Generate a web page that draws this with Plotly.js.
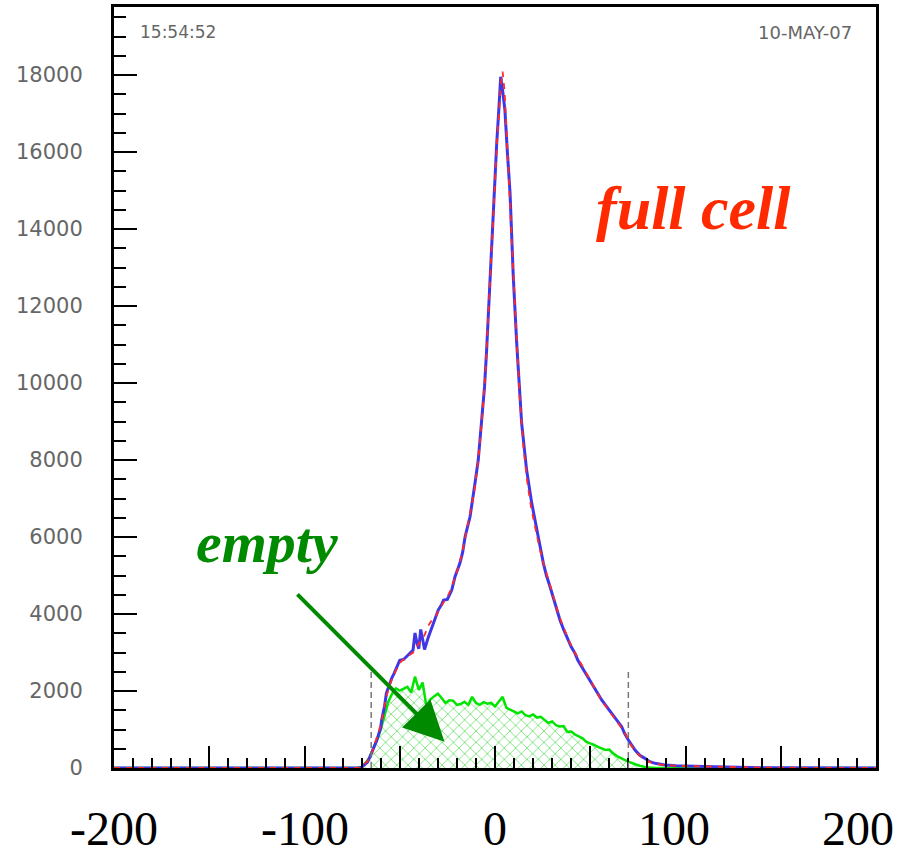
<!DOCTYPE html>
<html>
<head>
<meta charset="utf-8">
<script src="https://cdn.plot.ly/plotly-3.0.1.min.js"></script>
<style>html,body{margin:0;padding:0;background:#fff;}#chart{width:901px;height:859px;}</style>
</head>
<body>
<div id="chart"></div>
<script>
// ---- data ----
const fullSolidX = [-200, -72, -70, -67, -65.6, -63.5, -62, -60, -59.5, -58, -57, -55.5, -54.2, -53, -51.6, -50, -48, -45.5, -43, -42, -41, -40, -39, -38, -37, -35, -33, -31, -29.8, -28, -27, -25, -22.7, -21, -18.4, -17, -15.7, -13.1, -11.4, -10.5, -8.8, -7, -5.5, -4.4, -2.6, -0.9, 0.9, 2, 3, 4, 5.2, 6.5, 7.9, 9.6, 11.4, 14, 16.6, 19.3, 21, 22.7, 25.4, 27, 28.9, 31.5, 34.1, 36, 37.6, 40, 42, 43.5, 45.5, 48, 50.8, 53, 56, 58.5, 61.3, 64, 66.5, 68, 70, 73.5, 76, 78.7, 81, 84, 89.2, 95, 105, 115, 128, 140, 200];
const fullSolidY = [0, 0, 20, 150, 294, 550, 727, 1050, 1247, 1600, 1948, 2150, 2338, 2450, 2632, 2800, 2820, 2935, 3065, 3506, 3250, 3100, 3600, 3350, 3080, 3400, 3670, 3900, 4104, 4250, 4364, 4380, 4623, 4970, 5325, 5600, 6009, 6527, 7047, 7400, 8000, 8950, 9900, 10857, 12761, 14494, 16225, 17100, 17957, 17600, 17090, 16000, 14935, 12761, 11030, 8950, 7740, 6875, 6400, 6009, 5316, 5000, 4710, 4277, 3844, 3600, 3411, 3150, 2978, 2800, 2632, 2420, 2199, 2000, 1766, 1600, 1420, 1230, 1073, 900, 727, 467, 330, 251, 170, 121, 78, 60, 40, 35, 20, 5, 0];

const fullDashX = [-200, -72, -70, -67, -65, -63, -61, -59, -57, -55, -53, -51, -49, -47, -45, -43, -41, -39, -37, -35, -33, -31, -29, -27, -25, -23, -21, -19, -17, -15, -13, -11, -9, -7, -5, -3, -1, 1, 3, 4, 5, 7, 9, 11, 13, 15, 17, 19, 21, 23, 25, 27, 29, 31, 33, 35, 37, 39, 41, 43, 45, 47, 49, 51, 53, 55, 57, 59, 61, 63, 65, 67, 69, 71, 73, 75, 77, 79, 81, 84, 88, 95, 105, 115, 128, 140, 200];
const fullDashY = [0, 0, 30, 170, 350, 650, 950, 1350, 1850, 2200, 2450, 2650, 2780, 2850, 2920, 3000, 3150, 3300, 3450, 3700, 3850, 3950, 4150, 4300, 4450, 4650, 4950, 5250, 5650, 6150, 6600, 7150, 7900, 8950, 10300, 12200, 14000, 16200, 17700, 18090, 17600, 15700, 13500, 11500, 9600, 8300, 7400, 6750, 6250, 5800, 5400, 5050, 4700, 4380, 4050, 3780, 3520, 3280, 3080, 2900, 2720, 2520, 2330, 2150, 1990, 1830, 1680, 1530, 1410, 1270, 1140, 1000, 830, 620, 480, 360, 280, 210, 160, 110, 80, 55, 45, 30, 25, 8, 0];

const emptyX = [-200, -72, -70, -68, -66, -64, -62, -60, -58, -56, -54, -52, -50, -48, -46, -44, -42, -40, -38, -36, -34, -32, -30, -28, -26, -24, -22, -20, -18, -16, -14, -12, -10, -8, -6, -4, -2, 0, 2, 4, 6, 8, 10, 12, 14, 16, 18, 20, 22, 24, 26, 28, 30, 32, 34, 36, 38, 40, 42, 44, 46, 48, 50, 52, 54, 56, 58, 60, 62, 64, 66, 68, 70, 72, 74, 76, 78, 80, 85, 200];
const emptyY = [0, 0, 30, 130, 260, 470, 720, 1000, 1370, 1720, 1930, 2070, 2010, 2060, 2110, 1960, 2372, 2030, 2220, 1600, 1780, 1860, 1930, 1820, 1690, 1760, 1750, 1640, 1660, 1720, 1640, 1850, 1690, 1640, 1710, 1670, 1690, 1600, 1720, 1850, 1560, 1520, 1460, 1420, 1470, 1370, 1340, 1390, 1310, 1330, 1250, 1170, 1210, 1110, 1080, 1090, 940, 950, 870, 810, 770, 680, 650, 600, 550, 510, 470, 480, 380, 310, 270, 210, 165, 120, 90, 60, 30, 10, 0, 0];

const yTickVals = [0, 2000, 4000, 6000, 8000, 10000, 12000, 14000, 16000, 18000];
const yTickText = ['0', '2000', '4000', '6000', '8000', '10000', '12000', '14000', '16000', '18000'];
const xMajorTicks = [-200, -150, -100, -50, 0, 50, 100, 150, 200];
const xLabelVals = [-200, -100, 0, 100, 200];
const xLabelText = ['-200', '-100', '0', '100', '200'];
const cutLines = [-65, 70];
const cutHeight = 2500;
const timeStamp = '15:54:52';
const dateStamp = '10-MAY-07';

// ---- traces ----
const traces = [
  {
    x: emptyX, y: emptyY, type: 'scatter', mode: 'lines',
    line: {color: '#00e400', width: 2.5},
    fill: 'tozeroy', fillcolor: 'rgba(255,255,255,0)',
    fillpattern: {shape: 'x', fgcolor: '#3fd43f', bgcolor: 'rgba(255,255,255,0)', size: 8, solidity: 0.15},
    hoverinfo: 'skip'
  },
  {
    x: fullSolidX, y: fullSolidY, type: 'scatter', mode: 'lines',
    line: {color: '#3f36e6', width: 3},
    hoverinfo: 'skip'
  },
  {
    x: fullDashX, y: fullDashY, type: 'scatter', mode: 'lines',
    line: {color: '#ff2a2a', width: 1.8, dash: '6px,6px'},
    hoverinfo: 'skip'
  }
];

const xLabelShift = [0, 0, 0, -12, -18];
const annotations = [];
xLabelVals.forEach((v, i) => {
  annotations.push({
    x: v, xref: 'x', y: -0.079, yref: 'paper', text: xLabelText[i], showarrow: false,
    xanchor: 'center', yanchor: 'middle', xshift: xLabelShift[i],
    font: {family: 'Liberation Serif, Times New Roman, serif', size: 48, color: '#000'}
  });
});
annotations.push(
  {x: -187.5, xref: 'x', y: 0.967, yref: 'paper', text: timeStamp, showarrow: false,
   xanchor: 'left', yanchor: 'middle', font: {family: 'DejaVu Sans', size: 17, color: '#666'}},
  {x: 188.5, xref: 'x', y: 0.967, yref: 'paper', text: dateStamp, showarrow: false,
   xanchor: 'right', yanchor: 'middle', font: {family: 'DejaVu Sans', size: 18, color: '#666'}},
  {x: 104, xref: 'x', y: 14550, yref: 'y', text: '<b><i>full cell</i></b>', showarrow: false,
   xanchor: 'center', yanchor: 'middle', font: {family: 'Liberation Serif, Times New Roman, serif', size: 62, color: '#ff2a00'}},
  {x: -119.7, xref: 'x', y: 5850, yref: 'y', text: '<b><i>empty</i></b>', showarrow: false,
   xanchor: 'center', yanchor: 'middle', font: {family: 'Liberation Serif, Times New Roman, serif', size: 58, color: '#008a00'}},
  {x: -26.5, xref: 'x', y: 680, yref: 'y', ax: -104.5, axref: 'x', ay: 4550, ayref: 'y', text: '',
   showarrow: true, arrowhead: 2, arrowsize: 2, arrowwidth: 4, arrowcolor: '#008a00', standoff: 0}
);

const shapes = cutLines.map(v => ({
  type: 'line', xref: 'x', yref: 'y', x0: v, x1: v, y0: 0, y1: cutHeight,
  line: {color: '#777', width: 1.5, dash: '6px,4px'}
}));

const layout = {
  width: 901, height: 859,
  margin: {l: 114, r: 25, t: 7, b: 91, pad: 0},
  paper_bgcolor: '#fff', plot_bgcolor: '#fff',
  showlegend: false,
  xaxis: {
    range: [-200, 200], showgrid: false, zeroline: false,
    showline: true, linecolor: '#000', linewidth: 3, mirror: true,
    ticks: 'inside', tickvals: xMajorTicks, ticklen: 22, tickwidth: 2, tickcolor: '#000',
    showticklabels: false,
    minor: {dtick: 10, tick0: -200, ticks: 'inside', ticklen: 10, tickwidth: 2, tickcolor: '#000', showgrid: false}
  },
  yaxis: {
    range: [0, 19770], showgrid: false, zeroline: false,
    showline: true, linecolor: '#000', linewidth: 3, mirror: true,
    ticks: 'inside', tickvals: yTickVals, ticktext: yTickText, ticklen: 23, tickwidth: 2, tickcolor: '#000',
    tickfont: {family: 'DejaVu Sans', size: 21, color: '#666'},
    ticklabelstandoff: 24,
    minor: {dtick: 500, tick0: 0, ticks: 'inside', ticklen: 12, tickwidth: 2, tickcolor: '#000', showgrid: false}
  },
  annotations: annotations,
  shapes: shapes
};

Plotly.newPlot('chart', traces, layout, {displayModeBar: false, staticPlot: true});
</script>
</body>
</html>
